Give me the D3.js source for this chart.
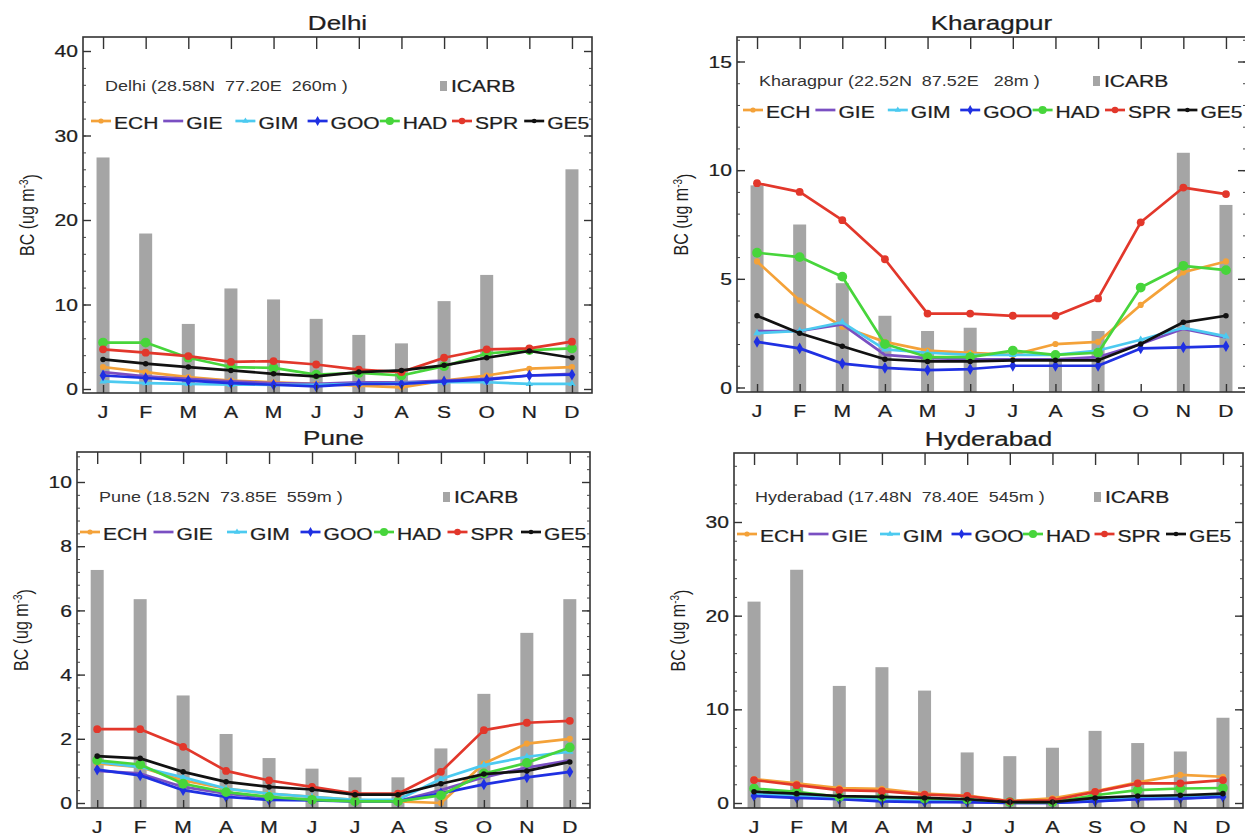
<!DOCTYPE html>
<html>
<head>
<meta charset="utf-8">
<script src="https://cdn.jsdelivr.net/npm/d3@7"></script>
<style>
  body { margin: 0; background: #fff; }
  svg { font-family: "Liberation Sans", Arial, sans-serif; }
  text { white-space: pre; }
</style>
</head>
<body>
<div id="chart"></div>
<script>
// month labels and model names
const months = ["J", "F", "M", "A", "M", "J", "J", "A", "S", "O", "N", "D"];
const models = ["ECH", "GIE", "GIM", "GOO", "HAD", "SPR", "GE5"];
const modelColors = ["#f4a239", "#7a4fc2", "#4ccaf0", "#1f30e2", "#47d53b", "#e2372b", "#111111"];

// Delhi
const delhiICARB = [27.4, 18.4, 7.7, 11.9, 10.6, 8.3, 6.4, 5.4, 10.4, 13.5, null, 26.0];
const delhiECH = [2.6, 2.0, 1.4, 1.0, 0.8, 0.6, 0.4, 0.2, 1.0, 1.6, 2.4, 2.6];
const delhiGIE = [2.0, 1.5, 1.2, 0.9, 0.7, 0.6, 0.8, 0.8, 1.0, 1.2, 1.6, 1.8];
const delhiGIM = [0.9, 0.7, 0.6, 0.5, 0.5, 0.5, 0.6, 0.7, 0.8, 0.8, 0.6, 0.6];
const delhiGOO = [1.6, 1.3, 1.0, 0.7, 0.5, 0.3, 0.6, 0.6, 0.9, 1.1, 1.6, 1.7];
const delhiHAD = [5.5, 5.5, 3.7, 2.6, 2.5, 1.7, 1.9, 1.6, 2.7, 4.2, 4.6, 4.8];
const delhiSPR = [4.7, 4.3, 3.9, 3.2, 3.3, 2.9, 2.3, 2.0, 3.7, 4.7, 4.8, 5.6];
const delhiGE5 = [3.5, 3.0, 2.6, 2.2, 1.8, 1.5, 2.0, 2.2, 2.8, 3.7, 4.5, 3.7];

// Kharagpur
const kgpICARB = [9.3, 7.5, 4.8, 3.3, 2.6, 2.75, null, 1.3, 2.6, null, 10.8, 8.4];
const kgpECH = [5.8, 4.0, 2.8, 2.1, 1.7, 1.6, 1.5, 2.0, 2.1, 3.8, 5.3, 5.8];
const kgpGIE = [2.6, 2.6, 2.9, 1.5, 1.35, 1.3, 1.3, 1.3, 1.4, 2.0, 2.7, 2.3];
const kgpGIM = [2.5, 2.6, 3.0, 1.75, 1.6, 1.5, 1.5, 1.5, 1.7, 2.2, 2.75, 2.35];
const kgpGOO = [2.1, 1.8, 1.1, 0.9, 0.8, 0.85, 1.0, 1.0, 1.0, 1.8, 1.85, 1.9];
const kgpHAD = [6.2, 6.0, 5.1, 2.0, 1.4, 1.4, 1.7, 1.5, 1.6, 4.6, 5.6, 5.4];
const kgpSPR = [9.4, 9.0, 7.7, 5.9, 3.4, 3.4, 3.3, 3.3, 4.1, 7.6, 9.2, 8.9];
const kgpGE5 = [3.3, 2.5, 1.9, 1.3, 1.2, 1.2, 1.25, 1.25, 1.25, 2.0, 3.0, 3.3];

// Pune
const puneICARB = [7.26, 6.35, 3.35, 2.15, 1.4, 1.07, 0.8, 0.8, 1.7, 3.4, 5.3, 6.35];
const puneECH = [1.23, 1.12, 0.7, 0.45, 0.29, 0.19, 0.1, 0.05, 0.0, 1.23, 1.85, 2.0];
const puneGIE = [1.0, 0.92, 0.5, 0.29, 0.17, 0.1, 0.06, 0.06, 0.4, 0.8, 1.1, 1.33];
const puneGIM = [1.28, 1.12, 0.8, 0.45, 0.29, 0.19, 0.1, 0.1, 0.75, 1.18, 1.44, 1.6];
const puneGOO = [1.04, 0.86, 0.4, 0.19, 0.1, 0.08, 0.05, 0.05, 0.3, 0.58, 0.8, 0.97];
const puneHAD = [1.33, 1.2, 0.6, 0.34, 0.19, 0.1, 0.05, 0.05, 0.24, 0.92, 1.25, 1.73];
const puneSPR = [2.3, 2.3, 1.75, 1.0, 0.7, 0.5, 0.29, 0.29, 0.97, 2.27, 2.5, 2.56];
const puneGE5 = [1.46, 1.39, 0.97, 0.66, 0.5, 0.42, 0.26, 0.26, 0.6, 0.9, 1.0, 1.28];

// Hyderabad
const hydICARB = [21.5, 24.9, 12.5, 14.5, 12.0, 5.4, 5.0, 5.9, 7.7, 6.4, 5.5, 9.1];
const hydECH = [2.55, 2.1, 1.6, 1.5, 1.0, 0.8, 0.2, 0.5, 1.26, 2.2, 3.0, 2.8];
const hydGIE = [0.9, 0.7, 0.5, 0.3, 0.2, 0.1, 0.02, 0.02, 0.2, 0.4, 0.5, 0.7];
const hydGIM = [1.0, 0.8, 0.5, 0.4, 0.3, 0.2, 0.05, 0.05, 0.3, 0.6, 0.7, 0.9];
const hydGOO = [0.75, 0.54, 0.4, 0.18, 0.1, 0.1, 0.0, 0.0, 0.18, 0.4, 0.47, 0.65];
const hydHAD = [1.55, 1.2, 0.65, 0.65, 0.47, 0.4, 0.1, 0.1, 0.83, 1.37, 1.55, 1.6];
const hydSPR = [2.45, 1.9, 1.37, 1.26, 0.9, 0.75, 0.18, 0.29, 1.19, 2.1, 2.1, 2.45];
const hydGE5 = [1.2, 1.0, 0.75, 0.65, 0.54, 0.4, 0.1, 0.1, 0.54, 0.75, 0.83, 1.0];

// y tick labels per station
const delhiTicks = [0, 10, 20, 30, 40];
const kgpTicks = [0, 5, 10, 15];
const puneTicks = [0, 2, 4, 6, 8, 10];
const hydTicks = [0, 10, 20, 30];

// station table built from the arrays above, plus panel layout
// (ty = pixel rows of the first and last y tick; leg = legend start, pitch)
const stations = [
  {name: "Delhi", info: "Delhi (28.58N  77.20E  260m )", icarb: delhiICARB,
   lines: [delhiECH, delhiGIE, delhiGIM, delhiGOO, delhiHAD, delhiSPR, delhiGE5], ticks: delhiTicks,
   box: {x0: 83, x1: 592, y0: 37, y1: 393}, ty: [389, 51], row1: 86, row2: 123,
   infoDx: 22, keyDx: 357, leg: [8, 72.2]},
  {name: "Kharagpur", info: "Kharagpur (22.52N  87.52E   28m )", icarb: kgpICARB,
   lines: [kgpECH, kgpGIE, kgpGIM, kgpGOO, kgpHAD, kgpSPR, kgpGE5], ticks: kgpTicks,
   box: {x0: 737, x1: 1246, y0: 37, y1: 392}, ty: [387.5, 61.5], row1: 81, row2: 112,
   infoDx: 22, keyDx: 356, leg: [6, 72.4]},
  {name: "Pune", info: "Pune (18.52N  73.85E  559m )", icarb: puneICARB,
   lines: [puneECH, puneGIE, puneGIM, puneGOO, puneHAD, puneSPR, puneGE5], ticks: puneTicks,
   box: {x0: 77, x1: 590, y0: 452, y1: 808}, ty: [803, 482], row1: 497, row2: 534,
   infoDx: 22, keyDx: 366, leg: [3, 73.5]},
  {name: "Hyderabad", info: "Hyderabad (17.48N  78.40E  545m )", icarb: hydICARB,
   lines: [hydECH, hydGIE, hydGIM, hydGOO, hydHAD, hydSPR, hydGE5], ticks: hydTicks,
   box: {x0: 734, x1: 1243, y0: 453, y1: 808}, ty: [803, 522], row1: 497, row2: 536,
   infoDx: 21, keyDx: 360, leg: [3, 71.5]}
];

// marker style per model (GIE has no marker)
const markerType = [d3.symbolCircle, null, d3.symbolTriangle, d3.symbolDiamond, d3.symbolCircle, d3.symbolCircle, d3.symbolCircle];
const markerSize = [30, 0, 24, 40, 75, 48, 24];

// the source figure is stretched sideways, so text is widened to match
const SX = 1.24;
function label(g, x, y, str, size, anchor) {
  return g.append("text")
    .attr("transform", "translate(" + x + "," + y + ") scale(" + SX + ",1)")
    .attr("text-anchor", anchor || "start")
    .attr("dy", "0.36em")
    .attr("font-size", size)
    .attr("fill", "#1e1e1e")
    .attr("stroke", "#1e1e1e")
    .attr("stroke-width", 0.25)
    .text(str);
}

const svg = d3.select("#chart").append("svg")
    .attr("width", 1245)
    .attr("height", 837);

stations.forEach(function(st) {
  const b = st.box;
  const g = svg.append("g");
  const t0 = st.ticks[0], tN = st.ticks[st.ticks.length - 1];

  const x = d3.scaleLinear().domain([-0.47, 11.47]).range([b.x0, b.x1]);
  const y = d3.scaleLinear().domain([t0, tN]).range(st.ty);

  // observed bars, filled up from the frame bottom
  g.append("g")
    .selectAll("rect")
    .data(st.icarb.map((v, i) => ({v: v, i: i})).filter(d => d.v != null))
    .enter().append("rect")
    .attr("x", d => x(d.i) - 6.5)
    .attr("width", 13)
    .attr("y", d => y(d.v))
    .attr("height", d => b.y1 - y(d.v))
    .attr("fill", "#a5a5a5");

  // model lines
  const line = d3.line().x((d, i) => x(i)).y(d => y(d));
  st.lines.forEach(function(vals, k) {
    g.append("path")
      .datum(vals)
      .attr("d", line)
      .attr("fill", "none")
      .attr("stroke", modelColors[k])
      .attr("stroke-width", 2.7)
      .attr("stroke-linejoin", "round");
    if (markerType[k]) {
      g.append("g").selectAll("path")
        .data(vals)
        .enter().append("path")
        .attr("transform", (d, i) => "translate(" + x(i) + "," + y(d) + ")")
        .attr("d", d3.symbol().type(markerType[k]).size(markerSize[k]))
        .attr("fill", modelColors[k]);
    }
  });

  // frame
  g.append("rect")
    .attr("x", b.x0).attr("y", b.y0)
    .attr("width", b.x1 - b.x0).attr("height", b.y1 - b.y0)
    .attr("fill", "none").attr("stroke", "#333").attr("stroke-width", 1.6);

  // axes (ticks only, labels drawn separately so they can be widened)
  const step = st.ticks[1] - st.ticks[0];
  const minor = d3.range(t0, y.invert(b.y0), step / 5);

  g.append("g")
    .attr("transform", "translate(0," + b.y1 + ")")
    .call(d3.axisBottom(x).tickValues(d3.range(12)).tickFormat("").tickSize(-8))
    .call(a => a.select(".domain").remove())
    .call(a => a.selectAll("line").attr("stroke", "#333").attr("stroke-width", 1.4));

  g.append("g")
    .attr("transform", "translate(0," + b.y0 + ")")
    .call(d3.axisTop(x).tickValues(d3.range(12)).tickFormat("").tickSize(-12))
    .call(a => a.select(".domain").remove())
    .call(a => a.selectAll("line").attr("stroke", "#333").attr("stroke-width", 1.4));

  [b.x0, b.x1].forEach(function(px, side) {
    const ax = side ? d3.axisRight(y) : d3.axisLeft(y);
    g.append("g")
      .attr("transform", "translate(" + px + ",0)")
      .call(ax.tickValues(minor).tickFormat("").tickSize(-3))
      .call(a => a.select(".domain").remove())
      .call(a => a.selectAll("line").attr("stroke", "#444"));
    const ax2 = side ? d3.axisRight(y) : d3.axisLeft(y);
    g.append("g")
      .attr("transform", "translate(" + px + ",0)")
      .call(ax2.tickValues(st.ticks).tickFormat("").tickSize(-8))
      .call(a => a.select(".domain").remove())
      .call(a => a.selectAll("line").attr("stroke", "#333").attr("stroke-width", 1.4));
  });

  months.forEach((m, i) => label(g, x(i), b.y1 + 19, m, 17, "middle"));
  st.ticks.forEach(t => label(g, b.x0 - 5, y(t), String(t), 17, "end"));

  // title
  label(g, (b.x0 + b.x1) / 2, b.y0 - 15, st.name, 21, "middle");

  // y label
  const yl = g.append("text")
    .attr("transform", "translate(" + (b.x0 - 49) + "," + ((b.y0 + b.y1) / 2) + ") rotate(-90) scale(1," + SX + ")")
    .attr("text-anchor", "middle")
    .attr("font-size", 16)
    .attr("fill", "#1e1e1e");
  yl.append("tspan").text("BC (ug m");
  yl.append("tspan").attr("dy", "-0.5em").attr("font-size", 10).text("-3");
  yl.append("tspan").attr("dy", "0.5em").text(")");

  // station info and ICARB key
  label(g, b.x0 + st.infoDx, st.row1, st.info, 14.5).attr("fill", "#333").attr("stroke", "none");
  g.append("rect")
    .attr("x", b.x0 + st.keyDx).attr("y", st.row1 - 5)
    .attr("width", 7).attr("height", 10)
    .attr("fill", "#a5a5a5");
  label(g, b.x0 + st.keyDx + 11, st.row1, "ICARB", 17);

  // model legend row
  models.forEach(function(m, k) {
    const lx = b.x0 + st.leg[0] + k * st.leg[1];
    g.append("line")
      .attr("x1", lx).attr("x2", lx + 20)
      .attr("y1", st.row2 - 2).attr("y2", st.row2 - 2)
      .attr("stroke", modelColors[k]).attr("stroke-width", 2.7);
    if (markerType[k]) {
      g.append("path")
        .attr("transform", "translate(" + (lx + 10) + "," + (st.row2 - 2) + ")")
        .attr("d", d3.symbol().type(markerType[k]).size(markerSize[k] * 0.7))
        .attr("fill", modelColors[k]);
    }
    label(g, lx + 23, st.row2, m, 17);
  });
});
</script>
</body>
</html>
